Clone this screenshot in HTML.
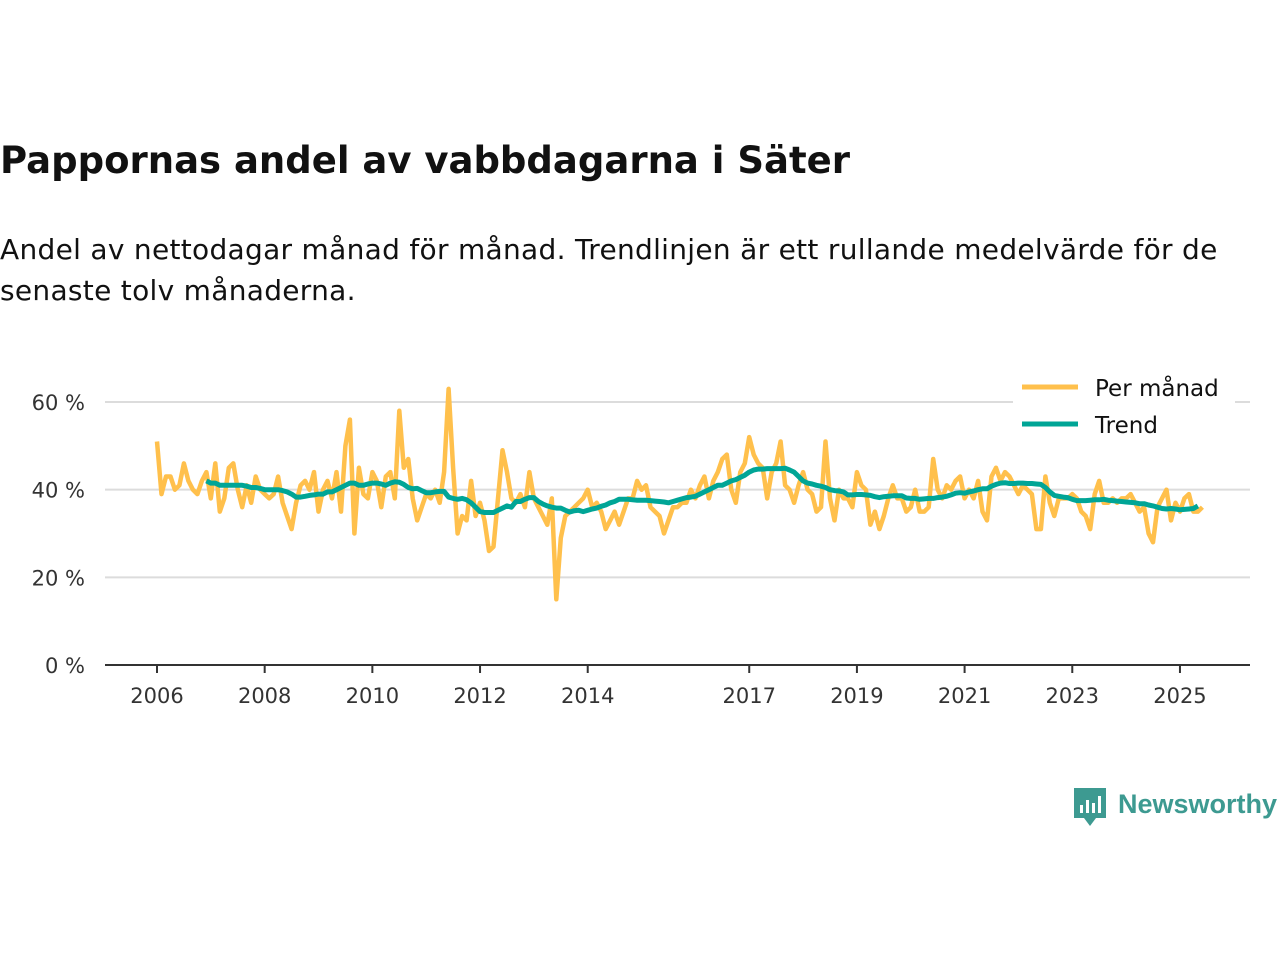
<!DOCTYPE html>
<html><head><meta charset="utf-8">
<style>
body{margin:0;background:#fff;font-family:"DejaVu Sans","Liberation Sans",sans-serif;}
#wrap{position:relative;width:1280px;height:960px;overflow:hidden;}
h1{position:absolute;left:0;top:139px;margin:0;font-size:37px;font-weight:bold;color:#111;letter-spacing:0px;}
p.sub{position:absolute;left:0;top:229px;margin:0;font-size:28px;line-height:41px;color:#111;width:1270px;letter-spacing:0.3px;white-space:nowrap;}
svg{position:absolute;left:0;top:0;}
</style></head><body>
<div id="wrap">
<h1>Pappornas andel av vabbdagarna i Säter</h1>
<p class="sub">Andel av nettodagar månad för månad. Trendlinjen är ett rullande medelvärde för de<br>senaste tolv månaderna.</p>
<svg id="chart" width="1280" height="960"></svg>
</div>
<script>
const yTicks=[0,20,40,60];
const yTickLabels=["0 %","20 %","40 %","60 %"];
const xTicks=[2006,2008,2010,2012,2014,2017,2019,2021,2023,2025];
const startYear=2006;
const monthly=[
51,39,43,43,40,41,46,42,40,39,42,44,
38,46,35,38,45,46,40,36,41,37,43,40,
39,38,39,43,37,34,31,37,41,42,40,44,
35,40,42,38,44,35,50,56,30,45,39,38,
44,42,36,43,44,38,58,45,47,38,33,36,
39,38,40,37,44,63,45,30,34,33,42,34,
37,33,26,27,38,49,44,38,37,39,36,44,
38,36,34,32,38,15,29,34,35,36,37,38,
40,36,37,35,31,33,35,32,35,38,38,42,
40,41,36,35,34,30,33,36,36,37,37,40,
38,41,43,38,42,44,47,48,40,37,44,46,
52,48,46,45,38,44,46,51,41,40,37,41,
44,40,39,35,36,51,38,33,40,38,38,36,
44,41,40,32,35,31,34,38,41,38,38,35,
36,40,35,35,36,47,40,38,41,40,42,43,
38,40,38,42,35,33,43,45,42,44,43,41,
39,41,40,39,31,31,43,37,34,38,38,38,
39,38,35,34,31,39,42,37,37,38,37,38,
38,39,37,35,36,30,28,36,38,40,33,37,
35,38,39,35,35,36];
const trendStart=11;
const trend=[42,
41.5,41.5,41,41,41,41,41,41,40.8,40.5,40.5,40.3,
40,40,40,40,39.8,39.5,39,38.3,38.3,38.5,38.7,38.8,
39,39,39.5,39.5,40,40.5,41,41.5,41.5,41,41,41.3,
41.5,41.5,41.3,41,41.5,41.8,41.7,41.2,40.5,40.2,40.3,39.8,
39.3,39.3,39.5,39.6,39.6,38.3,38,37.8,38,37.7,37,36,
35,34.8,34.8,34.8,35.3,35.8,36.3,36,37.3,37.3,37.8,38.2,
38.2,37.3,36.7,36.3,36,35.8,35.8,35.3,34.9,35.2,35.3,35,
35.3,35.6,35.8,36.2,36.5,37,37.3,37.8,37.8,37.8,37.7,37.6,
37.6,37.6,37.5,37.4,37.3,37.2,37,37.3,37.6,37.9,38.2,38.3,
38.5,39,39.5,40,40.5,41,41,41.5,42,42.3,42.8,43.3,
44,44.5,44.7,44.7,44.8,44.8,44.8,44.8,44.9,44.5,44,43,
42,41.5,41.3,41,40.8,40.5,40,39.8,39.7,39.5,38.8,38.8,
38.9,38.9,38.8,38.7,38.4,38.2,38.4,38.5,38.6,38.6,38.6,38.1,
38,38,37.8,37.9,38,38,38.2,38.3,38.5,38.8,39.2,39.3,
39.2,39.5,39.7,40,40.2,40.2,40.8,41.2,41.5,41.6,41.4,41.4,
41.5,41.5,41.4,41.4,41.3,41.2,40.5,39.5,38.7,38.5,38.3,38.2,
37.8,37.5,37.5,37.5,37.6,37.7,37.7,37.8,37.6,37.5,37.4,37.3,
37.2,37.1,37,36.8,36.8,36.5,36.3,36,35.7,35.6,35.7,35.6,
35.4,35.5,35.6,35.7,36.3];

const NS="http://www.w3.org/2000/svg";
const svg=document.getElementById('chart');
const x=t=>157+(t-2006)*53.84;
const y=v=>665-v*4.383;
const FONT='DejaVu Sans, Liberation Sans, sans-serif';
function mk(tag,attrs){const e=document.createElementNS(NS,tag);for(const k in attrs)e.setAttribute(k,attrs[k]);svg.appendChild(e);return e;}
yTicks.forEach((v,i)=>{
  if(v>0){const g=mk('line',{x1:105,x2:1250,y1:y(v),y2:y(v),stroke:'#dcdcdc','stroke-width':2});
  
  }
  const t=mk('text',{x:85,y:y(v)+8,'text-anchor':'end','font-size':21,fill:'#333','font-family':FONT});
  t.textContent=yTickLabels[i];
  
  
});
const ax=mk('line',{x1:105,x2:1250,y1:665,y2:665,stroke:'#333','stroke-width':2});


xTicks.forEach(yr=>{
  const tk=mk('line',{x1:x(yr),x2:x(yr),y1:665,y2:673,stroke:'#333','stroke-width':2});
  
  
  const t=mk('text',{x:x(yr),y:703,'text-anchor':'middle','font-size':21,fill:'#333','font-family':FONT});
  t.textContent=yr;
  
  
});
const pm=monthly.map((v,i)=>x(startYear+i/12).toFixed(1)+','+y(v).toFixed(1)).join(' ');
const l1=mk('polyline',{points:pm,fill:'none',stroke:'#ffc04c','stroke-width':4.5,'stroke-linejoin':'round'});


const pt=trend.map((v,i)=>x(startYear+(i+trendStart)/12).toFixed(1)+','+y(v).toFixed(1)).join(' ');
const l2=mk('polyline',{points:pt,fill:'none',stroke:'#00a596','stroke-width':5,'stroke-linejoin':'round'});


const lb=mk('rect',{x:1013,y:368,width:222,height:76,fill:'#fff'});


[['Per månad','#ffc04c',387],['Trend','#00a596',424]].forEach(([n,c,yy])=>{
  const ln=mk('line',{x1:1022,x2:1078,y1:yy,y2:yy,stroke:c,'stroke-width':5});
  
  
  const t=mk('text',{x:1095,y:yy+9,'font-size':23,fill:'#111','font-family':FONT});
  t.textContent=n;
  
  
});
const lg=mk('path',{d:'M1074 788 h32 v30 h-10 l-6 8 l-6 -8 h-10 z',fill:'#3d9a91'});


[[1080,805,8],[1086,800,13],[1092,803,10],[1098,796,17]].forEach(([bx,by,bh])=>{
  const b=mk('rect',{x:bx,y:by,width:3,height:bh,fill:'#fff'});
  
  
});
const lt=mk('text',{x:1118,y:813,'font-size':27,'font-weight':'bold',fill:'#3d9a91','font-family':'Liberation Sans, sans-serif'});
lt.textContent='Newsworthy';


</script>
</body></html>
